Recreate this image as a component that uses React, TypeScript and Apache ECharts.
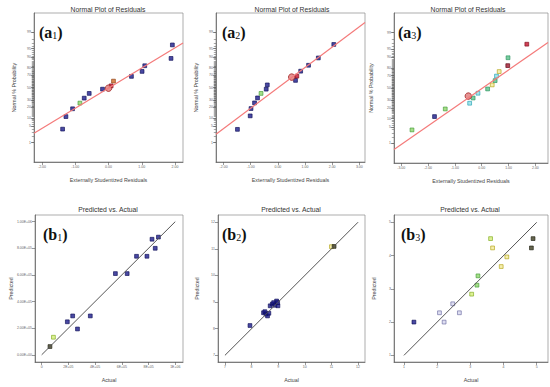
import React, { useEffect, useRef } from "react";
import * as echarts from "echarts";

// ---------- tick labels ----------
const PCT_TICKS = [1, 5, 10, 20, 30, 50, 70, 80, 90, 95, 99];
const A1_XTICKS = [-2, -1, 0, 1, 2];
const A2_XTICKS = [-2, -1, 0, 1, 2, 3];
const A3_XTICKS = [-3, -2, -1, 0, 1, 2];
const B1_XLABELS = ["0", "2E+05", "4E+05", "6E+05", "8E+05", "1E+06"];
const B1_YLABELS = ["0.00E+00", "2.00E+05", "4.00E+05", "6.00E+05", "8.00E+05", "1.00E+06"];
const B2_XLABELS = ["7", "8", "9", "10", "11", "12"];
const B2_YLABELS = ["7", "8", "9", "10", "11", "12"];
const B3_XLABELS = ["1", "2", "3", "4", "5"];
const B3_YLABELS = ["1", "2", "3", "4", "5"];

// ---------- (a1) normal plot ----------
const A1_RES = [-1.38, -1.28, -1.08, -0.86, -0.73, -0.58, -0.18, 0.08, 0.15, 0.69, 1.01, 1.09, 1.88, 1.92];
const A1_Z = [-1.76, -1.23, -0.9, -0.66, -0.45, -0.25, -0.07, 0.07, 0.27, 0.47, 0.68, 0.92, 1.23, 1.8];
const A1_COL = ["n", "n", "n", "g", "n", "n", "n", "r", "o", "n", "n", "n", "n", "n"];
const A1_HL = [0.0, -0.03];
const A1_FIT_X = [-2.24, 2.24];
const A1_FIT_Z = [-1.93, 1.88];

// ---------- (a2) ----------
const A2_RES = [-1.49, -1.02, -0.99, -0.86, -0.75, -0.62, -0.43, -0.39, 0.65, 0.7, 0.84, 1.13, 1.49, 2.06];
const A2_Z = [-1.77, -1.2, -0.89, -0.65, -0.44, -0.25, -0.07, 0.11, 0.3, 0.48, 0.69, 0.94, 1.25, 1.82];
const A2_COL = ["n", "n", "n", "n", "n", "g", "n", "n", "n", "r", "n", "n", "n", "n"];
const A2_HL = [0.51, 0.44];
const A2_FIT_X = [-2.28, 3.21];
const A2_FIT_Z = [-1.98, 2.75];

// ---------- (a3) ----------
const A3_RES = [-2.6, -1.76, -1.36, -0.45, -0.32, -0.14, 0.22, 0.39, 0.5, 0.55, 0.65, 0.97, 0.98, 1.68];
const A3_Z = [-1.76, -1.2, -0.88, -0.64, -0.42, -0.22, -0.04, 0.13, 0.31, 0.5, 0.69, 0.94, 1.27, 1.84];
const A3_COL = ["g", "n", "g", "c", "t", "c", "t", "y", "t", "c", "y", "dr", "t", "r"];
const A3_HL = [-0.5, -0.34];
const A3_FIT_X = [-3.27, 2.47];
const A3_FIT_Z = [-2.58, 1.91];

// ---------- (b1) predicted vs actual ----------
const B1_ACT = [0.31, 0.44, 0.96, 1.16, 1.34, 1.82, 2.76, 3.2, 3.55, 3.94, 4.13, 4.25, 4.37];
const B1_PRED = [0.31, 0.66, 1.24, 1.46, 0.97, 1.46, 3.05, 3.05, 3.7, 3.7, 4.34, 4.0, 4.42];
const B1_COL = ["k", "yg", "n", "n", "n", "n", "n", "n", "n", "n", "n", "n", "n"];

// ---------- (b2) ----------
const B2_ACT = [0.94, 1.45, 1.5, 1.54, 1.6, 1.65, 1.7, 1.78, 1.83, 1.88, 1.94, 1.99, 1.98, 4.0, 4.1];
const B2_PRED = [1.12, 1.6, 1.64, 1.55, 1.48, 1.58, 1.86, 1.93, 1.98, 1.88, 2.04, 1.86, 1.98, 4.08, 4.09];
const B2_COL = ["n", "n", "n", "n", "n", "n", "n", "n", "n", "n", "n", "n", "n", "y", "k"];

// ---------- (b3) ----------
const B3_ACT = [0.3, 1.07, 1.21, 1.47, 1.67, 2.04, 2.2, 2.23, 2.61, 2.67, 2.93, 3.1, 3.84, 3.89];
const B3_PRED = [1.0, 1.28, 1.0, 1.55, 1.28, 1.84, 2.11, 2.39, 3.51, 3.23, 2.67, 2.96, 3.23, 3.51];
const B3_COL = ["n", "l", "l", "l", "l", "yg", "g", "g", "yg", "y", "y", "y", "k", "k"];

const PALETTE: Record<string, [string, string]> = {
  n: ["#1c1c8c", "#0c0c55"],
  g: ["#8fd46a", "#3f9a33"],
  t: ["#58c088", "#24905a"],
  r: ["#c4102c", "#7a0a18"],
  dr: ["#a0142c", "#5a0010"],
  o: ["#d06a28", "#8a3e10"],
  c: ["#8fdde6", "#1e9fb0"],
  y: ["#f2ea9a", "#b0a010"],
  yg: ["#d6ee7a", "#7aa818"],
  l: ["#d6d6ee", "#6a6aa0"],
  k: ["#3e3e22", "#1e1e10"],
};

function probit(p: number): number {
  const a = [-39.69683028665376, 220.9460984245205, -275.9285104469687, 138.357751867269, -30.66479806614716, 2.506628277459239];
  const b = [-54.47609879822406, 161.5858368580409, -155.6989798598866, 66.80131188771972, -13.28068155288572];
  const c = [-0.007784894002430293, -0.3223964580411365, -2.400758277161838, -2.549732539343734, 4.374664141464968, 2.938163982698783];
  const d = [0.007784695709041462, 0.3224671290700398, 2.445134137142996, 3.754408661907416];
  const pl = 0.02425;
  let q: number, r: number;
  if (p < pl) {
    q = Math.sqrt(-2 * Math.log(p));
    return (((((c[0] * q + c[1]) * q + c[2]) * q + c[3]) * q + c[4]) * q + c[5]) / ((((d[0] * q + d[1]) * q + d[2]) * q + d[3]) * q + 1);
  }
  if (p <= 1 - pl) {
    q = p - 0.5;
    r = q * q;
    return ((((((a[0] * r + a[1]) * r + a[2]) * r + a[3]) * r + a[4]) * r + a[5]) * q) / (((((b[0] * r + b[1]) * r + b[2]) * r + b[3]) * r + b[4]) * r + 1);
  }
  q = Math.sqrt(-2 * Math.log(1 - p));
  return -(((((c[0] * q + c[1]) * q + c[2]) * q + c[3]) * q + c[4]) * q + c[5]) / ((((d[0] * q + d[1]) * q + d[2]) * q + d[3]) * q + 1);
}

const GRIDS = [
  { left: 34, top: 13, width: 149, height: 149 },
  { left: 216, top: 13, width: 149, height: 149 },
  { left: 394, top: 13, width: 154, height: 150 },
  { left: 35, top: 215, width: 148, height: 147 },
  { left: 218, top: 215, width: 147, height: 147 },
  { left: 394, top: 215, width: 154, height: 147 },
];

const SANS = "'Liberation Sans', Arial, sans-serif";
const AXIS_COLOR = "#555";
const LABEL_STYLE = { fontSize: 3.5, color: "#666", fontFamily: SANS };

function pts(xs: number[], ys: number[], cols: string[]) {
  return xs.map((x, i) => {
    const [fill, border] = PALETTE[cols[i]];
    return { value: [x, ys[i]], itemStyle: { color: fill, borderColor: border, borderWidth: 0.8 } };
  });
}

function baseX(grid: number, min: number, max: number, ticks: number[], fmt: (v: number) => string, name: string) {
  return {
    gridIndex: grid,
    type: "value",
    position: "bottom",
    min,
    max,
    splitLine: { show: false },
    axisLine: { show: true, onZero: false, lineStyle: { color: AXIS_COLOR, width: 0.7 } },
    axisTick: { show: true, length: 3, customValues: ticks, lineStyle: { color: AXIS_COLOR, width: 0.6 } },
    axisLabel: { customValues: ticks, formatter: fmt, margin: 3, ...LABEL_STYLE },
    name,
    nameLocation: "middle",
    nameGap: 15,
    nameTextStyle: { fontSize: 5.3, color: "#444", fontFamily: SANS },
  };
}

function baseY(grid: number, min: number, max: number, ticks: number[], fmt: (v: number) => string, name: string, gap: number) {
  return {
    gridIndex: grid,
    type: "value",
    position: "left",
    min,
    max,
    splitLine: { show: false },
    axisLine: { show: true, onZero: false, lineStyle: { color: AXIS_COLOR, width: 0.7 } },
    axisTick: { show: true, length: 3, customValues: ticks, lineStyle: { color: AXIS_COLOR, width: 0.6 } },
    axisLabel: { customValues: ticks, formatter: fmt, margin: 3, ...LABEL_STYLE },
    name,
    nameLocation: "middle",
    nameGap: gap,
    nameRotate: 90,
    nameTextStyle: { fontSize: 5.3, color: "#444", fontFamily: SANS },
  };
}

export default function App() {
  const ref = useRef<HTMLDivElement>(null);

  useEffect(() => {
    if (!ref.current) return;
    const chart = echarts.init(ref.current, undefined, { renderer: "svg" });

    const pctZ = PCT_TICKS.map((p) => probit(p / 100));
    const allPctZ: number[] = [];
    for (let p = 1; p <= 99; p++) allPctZ.push(probit(p / 100));
    const pctFmt = (v: number) => {
      let best = 0;
      pctZ.forEach((z, i) => {
        if (Math.abs(z - v) < Math.abs(pctZ[best] - v)) best = i;
      });
      return String(PCT_TICKS[best]);
    };
    const numFmt = (v: number) => v.toFixed(2);
    const idxFmt = (labels: string[]) => (v: number) => labels[Math.round(v)] ?? "";

    const ZMIN = -3.15;
    const ZMAX = 3.15;

    const xAxis: any[] = [
      baseX(0, -2.24, 2.24, A1_XTICKS, numFmt, "Externally Studentized Residuals"),
      baseX(1, -2.28, 3.21, A2_XTICKS, numFmt, "Externally Studentized Residuals"),
      baseX(2, -3.27, 2.47, A3_XTICKS, numFmt, "Externally Studentized Residuals"),
      baseX(3, -0.25, 5.29, [0, 1, 2, 3, 4, 5], idxFmt(B1_XLABELS), "Actual"),
      baseX(4, -0.26, 5.26, [0, 1, 2, 3, 4, 5], idxFmt(B2_XLABELS), "Actual"),
      baseX(5, -0.3, 4.34, [0, 1, 2, 3, 4], idxFmt(B3_XLABELS), "Actual"),
    ];

    const yAxis: any[] = [
      baseY(0, ZMIN, ZMAX, pctZ, pctFmt, "Normal % Probability", 18),
      baseY(1, ZMIN, ZMAX, pctZ, pctFmt, "Normal % Probability", 18),
      baseY(2, ZMIN, ZMAX, pctZ, pctFmt, "Normal % Probability", 21),
      baseY(3, -0.27, 5.25, [0, 1, 2, 3, 4, 5], idxFmt(B1_YLABELS), "Predicted", 21),
      baseY(4, -0.25, 5.27, [0, 1, 2, 3, 4, 5], idxFmt(B2_YLABELS), "Predicted", 19),
      baseY(5, -0.2, 4.22, [0, 1, 2, 3, 4], idxFmt(B3_YLABELS), "Predicted", 18),
    ];
    // dense percent ticks for the probability axes
    for (let g = 0; g < 3; g++) {
      yAxis.push({
        gridIndex: g,
        type: "value",
        position: "left",
        offset: 0,
        min: ZMIN,
        max: ZMAX,
        splitLine: { show: false },
        axisLine: { show: false, onZero: false },
        axisLabel: { show: false },
        axisTick: { show: true, length: 2.2, customValues: allPctZ, lineStyle: { color: "#555", width: 0.5 } },
      });
    }

    const series: any[] = [];
    const addNormal = (g: number, rx: number[], rz: number[], cols: string[], hl: number[], fx: number[], fz: number[]) => {
      series.push({
        type: "line",
        xAxisIndex: g,
        yAxisIndex: g,
        data: fx.map((x, i) => [x, fz[i]]),
        symbol: "none",
        lineStyle: { color: "#f47a7a", width: 1.2 },
        silent: true,
      });
      series.push({
        type: "scatter",
        xAxisIndex: g,
        yAxisIndex: g,
        symbol: "rect",
        symbolSize: 3.8,
        data: pts(rx, rz, cols),
      });
      series.push({
        type: "scatter",
        xAxisIndex: g,
        yAxisIndex: g,
        symbol: "circle",
        symbolSize: 6.5,
        data: [hl],
        itemStyle: { color: "#e07878", borderColor: "#a02020", borderWidth: 1 },
      });
    };
    addNormal(0, A1_RES, A1_Z, A1_COL, A1_HL, A1_FIT_X, A1_FIT_Z);
    addNormal(1, A2_RES, A2_Z, A2_COL, A2_HL, A2_FIT_X, A2_FIT_Z);
    addNormal(2, A3_RES, A3_Z, A3_COL, A3_HL, A3_FIT_X, A3_FIT_Z);

    const addPred = (g: number, ax: number[], py: number[], cols: string[], top: number) => {
      series.push({
        type: "line",
        xAxisIndex: g,
        yAxisIndex: g,
        data: [
          [0, 0],
          [top, top],
        ],
        symbol: "none",
        lineStyle: { color: "#555", width: 1 },
        silent: true,
      });
      series.push({
        type: "scatter",
        xAxisIndex: g,
        yAxisIndex: g,
        symbol: "rect",
        symbolSize: 3.8,
        data: pts(ax, py, cols),
      });
    };
    addPred(3, B1_ACT, B1_PRED, B1_COL, 5);
    addPred(4, B2_ACT, B2_PRED, B2_COL, 5);
    addPred(5, B3_ACT, B3_PRED, B3_COL, 4);

    const titles = [
      { text: "Normal Plot of Residuals", x: 108, y: 9 },
      { text: "Normal Plot of Residuals", x: 292, y: 9 },
      { text: "Normal Plot of Residuals", x: 468, y: 9 },
      { text: "Predicted vs. Actual", x: 108, y: 209 },
      { text: "Predicted vs. Actual", x: 291, y: 209 },
      { text: "Predicted vs. Actual", x: 470, y: 209 },
    ];
    const tags = [
      { l: "a", n: "1", x: 39, y: 32 },
      { l: "a", n: "2", x: 222, y: 32 },
      { l: "a", n: "3", x: 398, y: 32 },
      { l: "b", n: "1", x: 43, y: 234 },
      { l: "b", n: "2", x: 222, y: 234 },
      { l: "b", n: "3", x: 401, y: 234 },
    ];
    const graphic: any[] = [
      ...titles.map((t) => ({
        type: "text",
        x: t.x,
        y: t.y,
        style: { text: t.text, fontSize: 6.8, fill: "#333", fontFamily: SANS, align: "center", verticalAlign: "middle" },
        silent: true,
      })),
      ...tags.map((t) => ({
        type: "text",
        x: t.x,
        y: t.y,
        style: {
          text: `{p|(${t.l}}{s|${t.n}}{p|)}`,
          align: "left",
          verticalAlign: "middle",
          rich: {
            p: { fontSize: 16, fontWeight: "bold", fontFamily: "'Liberation Serif', 'DejaVu Serif', serif", fill: "#111", verticalAlign: "bottom", lineHeight: 17 },
            s: { fontSize: 10, fontWeight: "normal", fontFamily: "'Liberation Serif', 'DejaVu Serif', serif", fill: "#111", verticalAlign: "bottom", lineHeight: 14 },
          },
        },
        silent: true,
      })),
    ];

    chart.setOption({
      animation: false,
      backgroundColor: "#ffffff",
      grid: GRIDS.map((g) => ({ ...g, show: true, borderColor: "#8a8a8a", borderWidth: 0.7, backgroundColor: "transparent", containLabel: false })),
      xAxis,
      yAxis,
      series,
      graphic,
    });

    return () => chart.dispose();
  }, []);

  return <div ref={ref} style={{ position: "fixed", left: 0, top: 0, width: 550, height: 387, background: "#fff" }} />;
}
